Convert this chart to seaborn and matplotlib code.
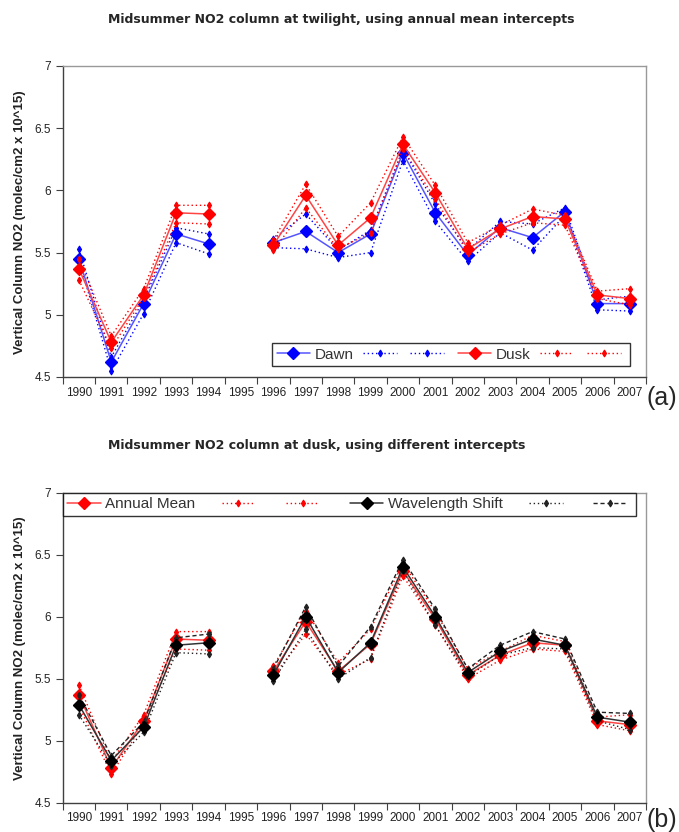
import numpy as np
import pandas as pd
import seaborn as sns
import matplotlib
matplotlib.use("Agg")
import matplotlib.pyplot as plt
from matplotlib.lines import Line2D
from matplotlib.ticker import FormatStrFormatter

nan = np.nan
years = list(range(1990, 2008))
year_labels = [str(y) for y in years]

# (a) dawn / dusk with annual mean intercepts
dawn = [5.45, 4.62, 5.09, 5.65, 5.57, nan, 5.58, 5.67, 5.50, 5.65, 6.30, 5.82, 5.48, 5.70, 5.62, 5.83, 5.09, 5.09]
dawn_hi = [5.53, 4.66, 5.12, 5.70, 5.65, nan, 5.61, 5.81, 5.52, 5.68, 6.33, 5.89, 5.52, 5.75, 5.73, 5.86, 5.12, 5.15]
dawn_lo = [5.44, 4.55, 5.01, 5.58, 5.49, nan, 5.54, 5.53, 5.46, 5.50, 6.24, 5.75, 5.43, 5.66, 5.52, 5.80, 5.04, 5.03]
dusk = [5.37, 4.78, 5.16, 5.82, 5.81, nan, 5.56, 5.96, 5.56, 5.78, 6.37, 5.98, 5.53, 5.69, 5.79, 5.77, 5.16, 5.13]
dusk_hi = [5.45, 4.83, 5.21, 5.88, 5.88, nan, 5.60, 6.05, 5.63, 5.90, 6.43, 6.04, 5.58, 5.72, 5.85, 5.80, 5.19, 5.21]
dusk_lo = [5.28, 4.73, 5.14, 5.74, 5.73, nan, 5.52, 5.86, 5.53, 5.66, 6.33, 5.93, 5.50, 5.65, 5.74, 5.72, 5.13, 5.08]

# (b) dusk with wavelength shift intercepts
wl = [5.29, 4.84, 5.11, 5.77, 5.79, nan, 5.53, 6.00, 5.55, 5.79, 6.40, 6.00, 5.55, 5.72, 5.82, 5.77, 5.19, 5.15]
wl_hi = [5.37, 4.88, 5.15, 5.83, 5.86, nan, 5.58, 6.08, 5.60, 5.92, 6.46, 6.06, 5.58, 5.77, 5.88, 5.82, 5.23, 5.22]
wl_lo = [5.21, 4.80, 5.07, 5.71, 5.70, nan, 5.48, 5.90, 5.50, 5.67, 6.37, 5.93, 5.52, 5.69, 5.75, 5.74, 5.16, 5.09]

df = pd.DataFrame({"year": years, "dawn": dawn, "dawn_hi": dawn_hi, "dawn_lo": dawn_lo,
                   "dusk": dusk, "dusk_hi": dusk_hi, "dusk_lo": dusk_lo,
                   "wl": wl, "wl_hi": wl_hi, "wl_lo": wl_lo})
# the missing 1995 splits every line in two pieces
df["segment"] = np.where(df["year"] < 1995, 0, 1)


def solid(c, lc):
    return dict(color=lc, linestyle="-", linewidth=1.1, marker="D", markersize=6,
                markeredgecolor=c, markerfacecolor=c, markeredgewidth=1)


def dotted(c, ls=(0, (1, 2))):
    return dict(color=c, linestyle=ls, linewidth=1.0, marker="d", markersize=3.5,
                markeredgecolor=c, markerfacecolor=c, markeredgewidth=0.8)


BLUE_SOLID = solid("blue", "#5555ff")
RED_SOLID = solid("red", "#ff4444")
BLACK_SOLID = solid("black", "#333333")

sns.set_style("white")
plt.rcParams["font.family"] = ["Liberation Sans", "DejaVu Sans"]

fig = plt.figure(figsize=(6.79, 8.32), dpi=100)
ax1 = fig.add_axes([0.0923, 0.5469, 0.8591, 0.3738])
ax2 = fig.add_axes([0.0923, 0.0352, 0.8591, 0.3726])


def draw(ax, col, style):
    sub = df.dropna(subset=[col])
    sns.lineplot(data=sub, x="year", y=col, units="segment", estimator=None,
                 ax=ax, legend=False, **style)


top_series = [("dawn_lo", dotted("blue")), ("dawn_hi", dotted("blue")), ("dawn", BLUE_SOLID),
              ("dusk_lo", dotted("red")), ("dusk_hi", dotted("red")), ("dusk", RED_SOLID)]
for col, st in top_series:
    draw(ax1, col, st)

bot_series = [("dusk_lo", dotted("red")), ("dusk_hi", dotted("red")), ("dusk", RED_SOLID),
              ("wl_lo", dotted("#222222")), ("wl_hi", dotted("#222222", (0, (3, 2)))), ("wl", BLACK_SOLID)]
for col, st in bot_series:
    draw(ax2, col, st)

for ax in (ax1, ax2):
    ax.set_xlim(1989.5, 2007.5)
    ax.set_ylim(4.5, 7)
    ax.set_xticks(np.arange(1989.5, 2008, 1))
    ax.set_xticklabels([])
    ax.set_xticks(years, minor=True)
    ax.set_xticklabels(year_labels, minor=True, fontsize=8.5, color="#222222")
    ax.set_yticks(np.arange(4.5, 7.01, 0.5))
    ax.yaxis.set_major_formatter(FormatStrFormatter("%g"))
    ax.tick_params(axis="y", labelsize=8.5, labelcolor="#222222", left=True, length=5,
                   direction="out", color="#404040", width=0.8)
    ax.tick_params(axis="x", which="major", bottom=True, length=5, direction="out",
                   color="#404040", width=0.8)
    ax.tick_params(axis="x", which="minor", bottom=False, length=0, pad=7)
    ax.set_xlabel("")
    ax.set_ylabel("")
    for side in ("top", "right"):
        ax.spines[side].set_color("#999999")
    for side in ("left", "bottom"):
        ax.spines[side].set_color("#404040")
    for sp in ax.spines.values():
        sp.set_linewidth(1.0)

# legends
leg_top = [BLUE_SOLID, dotted("blue"), dotted("blue"), RED_SOLID, dotted("red"), dotted("red")]
lg1 = ax1.legend([Line2D([], [], **s) for s in leg_top], ["Dawn", "", "", "Dusk", "", ""],
                 ncol=6, loc="lower right", bbox_to_anchor=(0.9726, 0.035), borderaxespad=0.0,
                 fontsize=11, handlelength=2.2, handletextpad=0.3, columnspacing=0.6,
                 borderpad=0.3, frameon=True, fancybox=False, edgecolor="black",
                 labelcolor="#333333")
lg1.get_frame().set_linewidth(1.0)

leg_bot = [RED_SOLID, dotted("red"), dotted("red"), BLACK_SOLID, dotted("#222222"),
           dotted("#222222", (0, (3, 2)))]
lg2 = ax2.legend([Line2D([], [], **s) for s in leg_bot],
                 ["Annual Mean", "", "", "Wavelength Shift", "", ""],
                 ncol=6, loc="upper left", bbox_to_anchor=(0.0, 1.0), borderaxespad=0.0,
                 fontsize=11, handlelength=2.2, handletextpad=0.3, columnspacing=1.7,
                 borderpad=0.3, frameon=True, fancybox=False, edgecolor="black",
                 labelcolor="#333333")
lg2.get_frame().set_linewidth(1.0)

# titles, axis labels and panel letters
fig.text(108 / 679, 1 - 20 / 832, "Midsummer NO2 column at twilight, using annual mean intercepts",
         ha="left", va="center", fontsize=9.0, fontweight="bold", family="DejaVu Sans")
fig.text(108 / 679, 1 - 445 / 832, "Midsummer NO2 column at dusk, using different intercepts",
         ha="left", va="center", fontsize=9.0, fontweight="bold", family="DejaVu Sans")
ylab = "Vertical Column NO2 (molec/cm2 x 10^15)"
fig.text(20 / 679, 1 - 222 / 832, ylab, rotation=90, ha="center", va="center",
         fontsize=9.5, fontweight="bold", color="#222222")
fig.text(20 / 679, 1 - 648 / 832, ylab, rotation=90, ha="center", va="center",
         fontsize=9.5, fontweight="bold", color="#222222")
fig.text(647 / 679, 1 - 398 / 832, "(a)", ha="left", va="center", fontsize=18)
fig.text(647 / 679, 1 - 820 / 832, "(b)", ha="left", va="center", fontsize=18)

fig.savefig("out.png", dpi=100)
